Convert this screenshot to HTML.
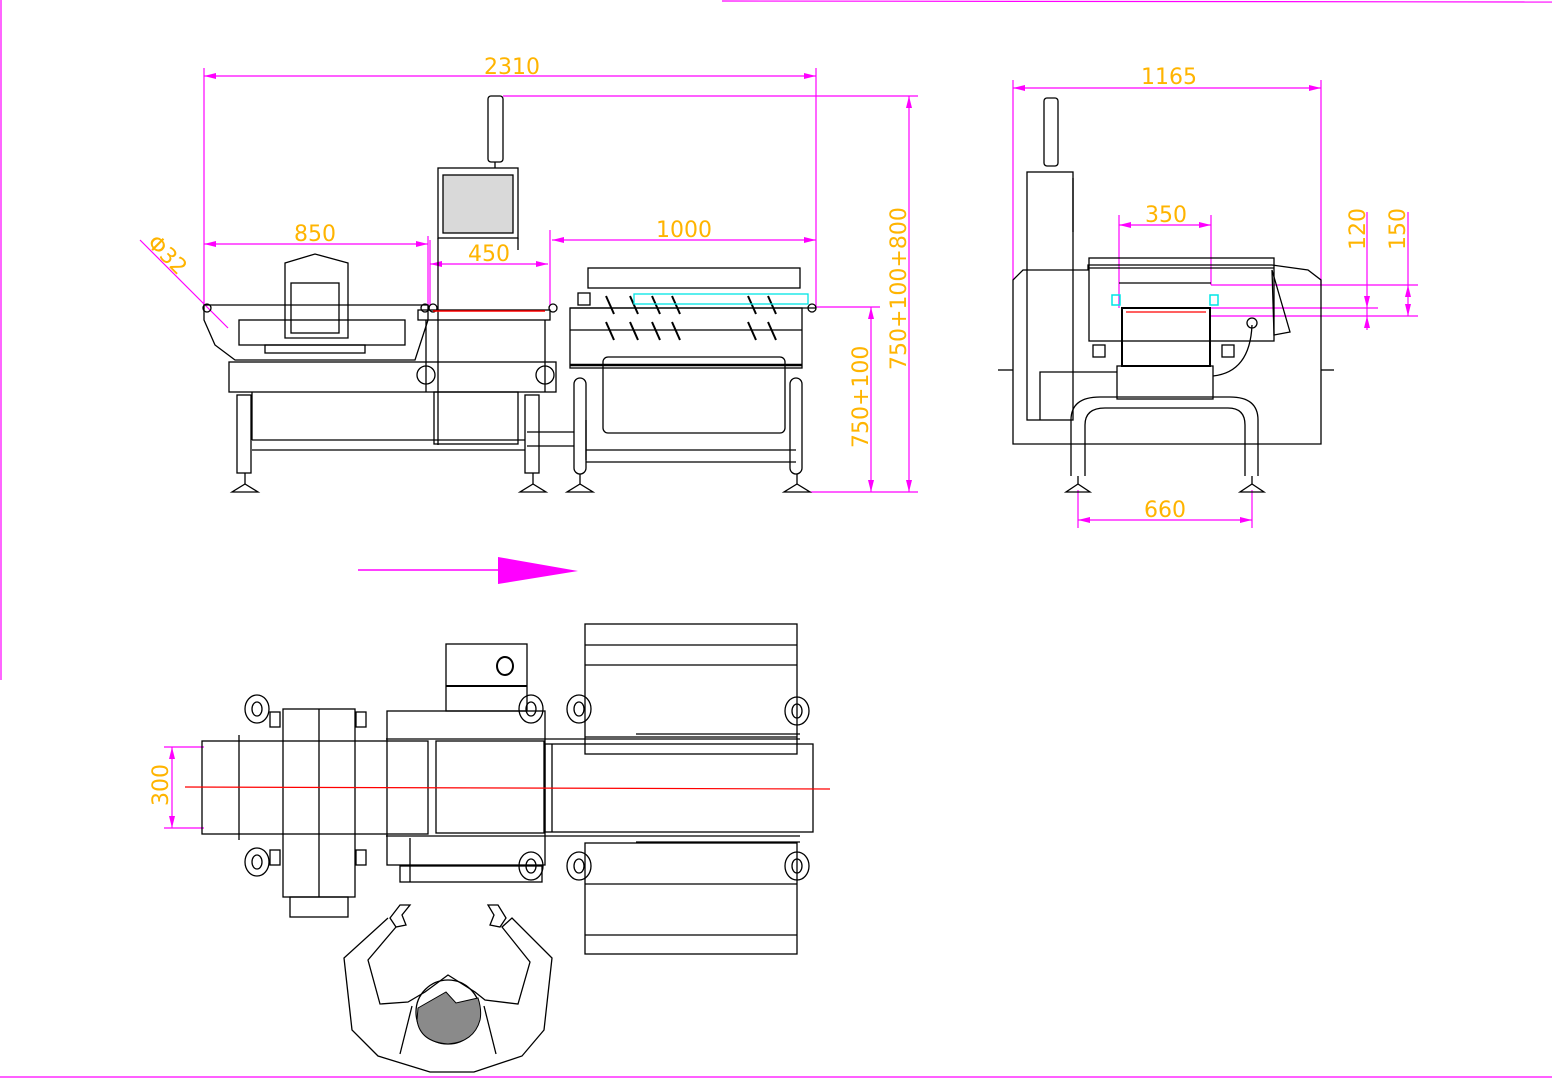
<!DOCTYPE html>
<html><head><meta charset="utf-8"><style>
html,body{margin:0;padding:0;background:#fff;}
svg{display:block}
text{font-family:"DejaVu Sans","Liberation Sans",sans-serif;fill:#ffb400;font-size:22px}
</style></head><body>
<svg width="1552" height="1080" viewBox="0 0 1552 1080" xmlns="http://www.w3.org/2000/svg">
<g stroke="#ff00ff" stroke-width="1.2" fill="none">
<line x1="722" y1="1" x2="1552" y2="2"/>
<line x1="1" y1="0" x2="1" y2="680"/>
<line x1="0" y1="1077" x2="1552" y2="1077"/>
</g>
<g stroke="#ff00ff" stroke-width="1.2" fill="none">
<line x1="204" y1="76" x2="816" y2="76"/>
<line x1="204" y1="68" x2="204" y2="306"/>
<line x1="816" y1="68" x2="816" y2="306"/>
<line x1="503" y1="96" x2="918" y2="96"/>
<line x1="909" y1="96" x2="909" y2="492"/>
<line x1="810" y1="492" x2="918" y2="492"/>
<line x1="816" y1="307" x2="880" y2="307"/>
<line x1="871" y1="307" x2="871" y2="492"/>
<line x1="204" y1="244" x2="428" y2="244"/>
<line x1="428" y1="236" x2="428" y2="306"/>
<line x1="430" y1="264" x2="548" y2="264"/>
<line x1="430" y1="240" x2="430" y2="306"/>
<line x1="550" y1="230" x2="550" y2="306"/>
<line x1="552" y1="240" x2="816" y2="240"/>
<line x1="140" y1="240" x2="228" y2="328"/>
<line x1="1013" y1="88" x2="1321" y2="88"/>
<line x1="1013" y1="80" x2="1013" y2="280"/>
<line x1="1321" y1="80" x2="1321" y2="285"/>
<line x1="1119" y1="225" x2="1211" y2="225"/>
<line x1="1119" y1="215" x2="1119" y2="308"/>
<line x1="1211" y1="215" x2="1211" y2="285"/>
<line x1="1211" y1="285" x2="1418" y2="285"/>
<line x1="1211" y1="308" x2="1378" y2="308"/>
<line x1="1211" y1="316" x2="1418" y2="316"/>
<line x1="1367" y1="212" x2="1367" y2="330"/>
<line x1="1408" y1="212" x2="1408" y2="316"/>
<line x1="1078" y1="520" x2="1252" y2="520"/>
<line x1="1078" y1="490" x2="1078" y2="528"/>
<line x1="1252" y1="490" x2="1252" y2="528"/>
<line x1="164" y1="747" x2="204" y2="747"/>
<line x1="164" y1="828" x2="204" y2="828"/>
<line x1="172" y1="747" x2="172" y2="828"/>
<line x1="358" y1="570" x2="500" y2="570" stroke-width="1.6"/>
</g>
<polygon points="498,557 578,571 498,584" fill="#ff00ff"/>
<g fill="#ff00ff">
<polygon points="204,76 216,73 216,79"/><polygon points="816,76 804,73 804,79"/>
<polygon points="204,244 216,241 216,247"/><polygon points="428,244 416,241 416,247"/>
<polygon points="430,264 442,261 442,267"/><polygon points="548,264 536,261 536,267"/>
<polygon points="552,240 564,237 564,243"/><polygon points="816,240 804,237 804,243"/>
<polygon points="909,96 906,108 912,108"/><polygon points="909,492 906,480 912,480"/>
<polygon points="871,307 868,319 874,319"/><polygon points="871,492 868,480 874,480"/>
<polygon points="1013,88 1025,85 1025,91"/><polygon points="1321,88 1309,85 1309,91"/>
<polygon points="1119,225 1131,222 1131,228"/><polygon points="1211,225 1199,222 1199,228"/>
<polygon points="1367,308 1364,296 1370,296"/><polygon points="1367,316 1364,328 1370,328"/>
<polygon points="1408,285 1405,297 1411,297"/><polygon points="1408,316 1405,304 1411,304"/>
<polygon points="1078,520 1090,517 1090,523"/><polygon points="1252,520 1240,517 1240,523"/>
<polygon points="172,747 169,759 175,759"/><polygon points="172,828 169,816 175,816"/>
</g>
<text x="484" y="74">2310</text>
<text x="294" y="241">850</text>
<text x="468" y="261">450</text>
<text x="656" y="237">1000</text>
<text x="1141" y="84">1165</text>
<text x="1145" y="222">350</text>
<text x="1144" y="517">660</text>
<text transform="translate(906,370) rotate(-90)">750+100+800</text>
<text transform="translate(868,448) rotate(-90)">750+100</text>
<text transform="translate(1365,250) rotate(-90)">120</text>
<text transform="translate(1405,250) rotate(-90)">150</text>
<text transform="translate(168,806) rotate(-90)">300</text>
<text transform="translate(146,244) rotate(45)">Φ32</text>

<g stroke="#000" stroke-width="1.3" fill="none">
<rect x="488" y="96" width="15" height="66" rx="3"/>
<line x1="495" y1="162" x2="495" y2="168"/>
<rect x="438" y="168" width="80" height="70"/>
<rect x="443" y="175" width="70" height="58" fill="#d9d9d9"/>
<line x1="438" y1="238" x2="438" y2="445"/>
<line x1="518" y1="238" x2="518" y2="250"/>
<polygon points="285,263 315,254 348,263 348,338 285,338"/>
<rect x="291" y="283" width="48" height="50"/>
<polygon points="204,305 428,305 428,320 415,360 235,360 215,345 204,320"/>
<rect x="239" y="320" width="166" height="25"/>
<rect x="265" y="345" width="100" height="8"/>
<rect x="229" y="362" width="327" height="30"/>
<line x1="252" y1="392" x2="252" y2="440"/>
<line x1="252" y1="440" x2="525" y2="440"/>
<line x1="252" y1="450" x2="525" y2="450"/>
<rect x="237" y="395" width="14" height="78"/>
<rect x="525" y="395" width="14" height="78"/>
<rect x="434" y="392" width="84" height="52"/>
<rect x="418" y="310" width="132" height="10"/>
<line x1="426" y1="320" x2="426" y2="392"/>
<line x1="545" y1="320" x2="545" y2="392"/>
<circle cx="426" cy="375" r="9"/><circle cx="545" cy="375" r="9"/>
<rect x="588" y="268" width="212" height="20"/>
<line x1="570" y1="308" x2="816" y2="308"/>
<rect x="570" y="308" width="232" height="60"/>
<line x1="570" y1="330" x2="802" y2="330"/>
<line x1="570" y1="365" x2="802" y2="365" stroke-width="2.5"/>
<rect x="603" y="357" width="182" height="76" rx="5"/>
<line x1="586" y1="420" x2="586" y2="460"/>
<line x1="586" y1="450" x2="796" y2="450"/>
<line x1="586" y1="462" x2="796" y2="462"/>
<rect x="574" y="378" width="12" height="96" rx="6"/>
<rect x="790" y="378" width="12" height="96" rx="6"/>
<line x1="527" y1="432" x2="574" y2="432"/>
<line x1="527" y1="446" x2="574" y2="446"/>
<path d="M232,492 L258,492 L245,484 Z M520,492 L546,492 L533,484 Z M567,492 L593,492 L580,484 Z M784,492 L810,492 L797,484 Z"/>
<line x1="245" y1="473" x2="245" y2="484"/><line x1="533" y1="473" x2="533" y2="484"/><line x1="580" y1="474" x2="580" y2="484"/><line x1="797" y1="474" x2="797" y2="484"/>
<circle cx="207" cy="308" r="4"/><circle cx="425" cy="308" r="4"/><circle cx="433" cy="308" r="4"/><circle cx="553" cy="308" r="4"/><circle cx="812" cy="308" r="4"/>
<rect x="578" y="293" width="12" height="12"/>
<g stroke-width="2">
<line x1="606" y1="296" x2="614" y2="314"/><line x1="630" y1="296" x2="638" y2="314"/><line x1="652" y1="296" x2="660" y2="314"/><line x1="672" y1="296" x2="680" y2="314"/><line x1="748" y1="296" x2="756" y2="314"/><line x1="768" y1="296" x2="776" y2="314"/>
<line x1="606" y1="322" x2="614" y2="340"/><line x1="630" y1="322" x2="638" y2="340"/><line x1="652" y1="322" x2="660" y2="340"/><line x1="672" y1="322" x2="680" y2="340"/><line x1="748" y1="322" x2="756" y2="340"/><line x1="768" y1="322" x2="776" y2="340"/>
</g>
</g>
<line x1="433" y1="311" x2="545" y2="311" stroke="red" stroke-width="1.5"/>
<rect x="634" y="294" width="174" height="10" stroke="#00e5e5" fill="none" stroke-width="1.3"/>

<g stroke="#000" stroke-width="1.3" fill="none">
<rect x="1044" y="98" width="14" height="68" rx="3"/>
<rect x="1027" y="172" width="46" height="248"/>
<line x1="1073" y1="178" x2="1073" y2="232"/>
<polygon points="1013,280 1023,270 1088,270 1088,265 1272,265 1308,270 1321,280 1321,444 1013,444"/>
<rect x="1089" y="258" width="185" height="83"/>
<line x1="1089" y1="268" x2="1274" y2="268"/>
<line x1="1119" y1="283" x2="1211" y2="283"/>
<polygon points="1272,270 1290,332 1274,335"/>
<rect x="1122" y="308" width="88" height="58" stroke-width="2"/>
<rect x="1117" y="366" width="96" height="33"/>
<path d="M1071,476 L1071,420 Q1071,397 1100,397 L1230,397 Q1258,397 1258,420 L1258,476 M1085,476 L1085,425 Q1085,408 1105,408 L1228,408 Q1245,408 1245,425 L1245,476"/>
<path d="M1066,492 L1090,492 L1078,484 Z M1240,492 L1264,492 L1252,484 Z"/>
<line x1="1078" y1="476" x2="1078" y2="484"/><line x1="1252" y1="476" x2="1252" y2="484"/>
<line x1="998" y1="370" x2="1013" y2="370"/><line x1="1321" y1="370" x2="1334" y2="370"/>
<path d="M1040,420 L1040,372 L1117,372"/>
<path d="M1213,376 Q1250,372 1252,325" />
<circle cx="1252" cy="323" r="5"/>
<rect x="1093" y="345" width="12" height="12"/><rect x="1222" y="345" width="12" height="12"/>
</g>
<line x1="1126" y1="312" x2="1206" y2="312" stroke="red" stroke-width="1.3"/>
<rect x="1112" y="295" width="8" height="10" stroke="#00e5e5" fill="none" stroke-width="1.5"/>
<rect x="1210" y="295" width="8" height="10" stroke="#00e5e5" fill="none" stroke-width="1.5"/>

<g stroke="#000" stroke-width="1.3" fill="none">
<rect x="446" y="644" width="81" height="67"/>
<line x1="446" y1="686" x2="527" y2="686" stroke-width="2"/>
<ellipse cx="505" cy="666" rx="8" ry="9" stroke-width="2"/>
<rect x="585" y="624" width="212" height="130"/>
<line x1="585" y1="645" x2="797" y2="645"/><line x1="585" y1="665" x2="797" y2="665"/><line x1="585" y1="737" x2="797" y2="737"/>
<rect x="585" y="843" width="212" height="111"/>
<line x1="585" y1="884" x2="797" y2="884"/><line x1="585" y1="935" x2="797" y2="935"/>
<rect x="202" y="741" width="226" height="93"/>
<line x1="239" y1="735" x2="239" y2="840"/>
<rect x="283" y="709" width="72" height="188"/>
<line x1="319" y1="709" x2="319" y2="897"/>
<rect x="290" y="897" width="58" height="20"/>
<rect x="387" y="711" width="158" height="154"/>
<rect x="436" y="741" width="108" height="92"/>
<rect x="545" y="744" width="268" height="88"/>
<line x1="552" y1="744" x2="552" y2="832"/>
<rect x="400" y="866" width="142" height="16"/>
<line x1="410" y1="838" x2="410" y2="882"/>
<line x1="386" y1="739" x2="800" y2="739"/>
<line x1="386" y1="836" x2="800" y2="836"/>
<line x1="636" y1="734" x2="800" y2="734"/>
<line x1="636" y1="842" x2="800" y2="842"/>
<rect x="270" y="712" width="10" height="15"/><rect x="356" y="712" width="10" height="15"/>
<rect x="270" y="850" width="10" height="15"/><rect x="356" y="850" width="10" height="15"/>
<g>
<ellipse cx="257" cy="709" rx="12" ry="14"/><ellipse cx="257" cy="709" rx="5" ry="7"/>
<ellipse cx="257" cy="862" rx="12" ry="14"/><ellipse cx="257" cy="862" rx="5" ry="7"/>
<ellipse cx="531" cy="709" rx="12" ry="14"/><ellipse cx="531" cy="709" rx="5" ry="7"/>
<ellipse cx="531" cy="866" rx="12" ry="14"/><ellipse cx="531" cy="866" rx="5" ry="7"/>
<ellipse cx="579" cy="709" rx="12" ry="14"/><ellipse cx="579" cy="709" rx="5" ry="7"/>
<ellipse cx="579" cy="866" rx="12" ry="14"/><ellipse cx="579" cy="866" rx="5" ry="7"/>
<ellipse cx="797" cy="711" rx="12" ry="14"/><ellipse cx="797" cy="711" rx="5" ry="7"/>
<ellipse cx="797" cy="866" rx="12" ry="14"/><ellipse cx="797" cy="866" rx="5" ry="7"/>
</g>
<path d="M400,905 L410,905 L402,915 L406,925 L396,927 L390,918 Z"/>
<path d="M488,905 L498,905 L506,918 L500,927 L490,925 L494,915 Z"/>
<path d="M388,918 L344,958 L352,1030 L378,1056 L430,1072 L474,1072 L522,1056 L544,1030 L552,958 L512,918 L502,927 L530,962 L518,1004 L485,1000 L475,992 L448,975 L425,992 L408,1002 L380,1004 L368,960 L396,927"/>
<circle cx="448" cy="1012" r="32"/>
<line x1="412" y1="1006" x2="400" y2="1054"/><line x1="484" y1="1006" x2="496" y2="1054"/>
</g>
<path d="M418,1008 L446,992 L456,1003 L478,998 Q482,1010 480,1020 Q474,1042 448,1044 Q420,1042 417,1020 Z" fill="#8a8a8a" stroke="#000"/>
<line x1="185" y1="787" x2="830" y2="789" stroke="red" stroke-width="1.2"/>
</svg>
</body></html>
